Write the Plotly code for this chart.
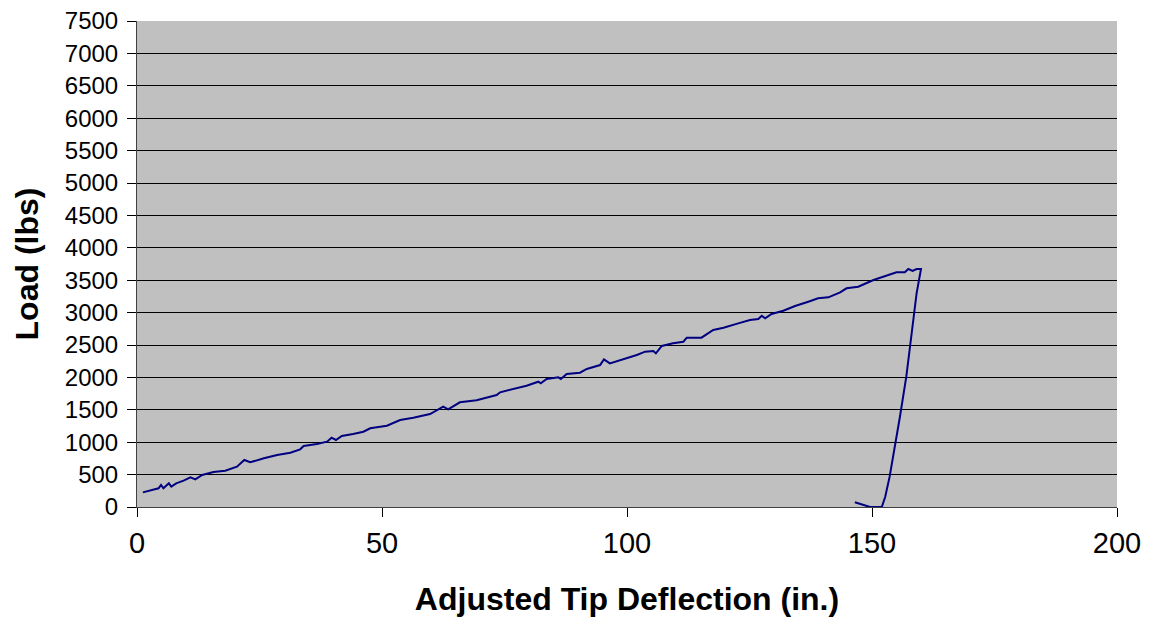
import plotly.graph_objects as go

deflection = [1.2, 2.7, 4.4, 4.9, 5.4, 6.5, 7.0, 8.0, 9.5, 10.9, 11.9, 13.3, 15.6, 18.0, 20.4, 21.9, 23.1,
              25.9, 28.6, 31.3, 33.3, 34.0, 36.7, 38.8, 39.7, 40.6, 41.8, 44.1, 46.2, 47.6, 51.0, 53.7,
              56.4, 59.8, 62.5, 63.5, 65.9, 69.3, 73.4, 74.1, 76.8, 79.5, 81.9, 82.4, 83.6, 86.0, 86.5,
              87.7, 90.4, 91.8, 94.5, 95.3, 96.5, 99.2, 102.0, 103.7, 105.4, 105.9, 107.1, 109.4, 111.5,
              112.2, 115.2, 117.6, 119.7, 122.7, 125.1, 126.8, 127.5, 128.2, 129.5, 131.9, 134.3, 137.0,
              139.0, 141.1, 143.5, 144.8, 147.2, 150.3, 152.3, 155.0, 156.7, 157.4, 158.3, 159.1, 160.0,
              159.6, 159.1, 157.8, 157.0, 155.7, 154.4, 153.6, 152.7, 152.0, 149.6, 147.6, 146.5]
load = [226, 252, 288, 340, 288, 365, 314, 365, 406, 458, 427, 494, 540, 560, 622, 725, 690,
        751, 802, 838, 890, 941, 972, 1008, 1070, 1034, 1096, 1127, 1162, 1214, 1255, 1343,
        1378, 1435, 1548, 1508, 1616, 1647, 1728, 1770, 1821, 1872, 1934, 1909, 1975, 2001, 1975,
        2052, 2073, 2130, 2191, 2279, 2217, 2279, 2346, 2397, 2407, 2371, 2485, 2526, 2550,
        2613, 2613, 2731, 2767, 2834, 2886, 2901, 2952, 2911, 2978, 3029, 3102, 3168,
        3220, 3236, 3313, 3375, 3400, 3503, 3554, 3622, 3622, 3673, 3642, 3673, 3673,
        3477, 3298, 2500, 2011, 1393, 776, 468, 159, 0, 0, 46, 72]

fig = go.Figure()
fig.add_trace(go.Scatter(x=deflection, y=load, mode="lines",
                         line=dict(color="#000080", width=2), showlegend=False))

fig.update_layout(
    width=1154, height=625,
    margin=dict(l=137, r=37, t=21, b=118, autoexpand=False),
    paper_bgcolor="white", plot_bgcolor="#C0C0C0",
    font=dict(family="Liberation Sans, Arial", color="black"),
    xaxis=dict(range=[0, 200], dtick=50, tick0=0, showgrid=False, zeroline=False,
               ticks="outside", ticklen=9, tickcolor="black", tickfont=dict(size=29),
               ticklabelstandoff=1, automargin=False,
               showline=True, linecolor="#404040", linewidth=1, mirror=False,
               title=dict(text="<b>Adjusted Tip Deflection (in.)</b>", font=dict(size=32), standoff=29)),
    yaxis=dict(range=[0, 7500], dtick=500, tick0=0, showgrid=True, gridcolor="black", gridwidth=1,
               zeroline=False, ticks="outside", ticklen=9, tickcolor="black", tickfont=dict(size=24),
               ticklabelstandoff=4, automargin=False,
               showline=True, linecolor="#404040", linewidth=1,
               title=dict(text="<b>Load (lbs)</b>", font=dict(size=32), standoff=16)),
)

fig.write_html("out.html")
